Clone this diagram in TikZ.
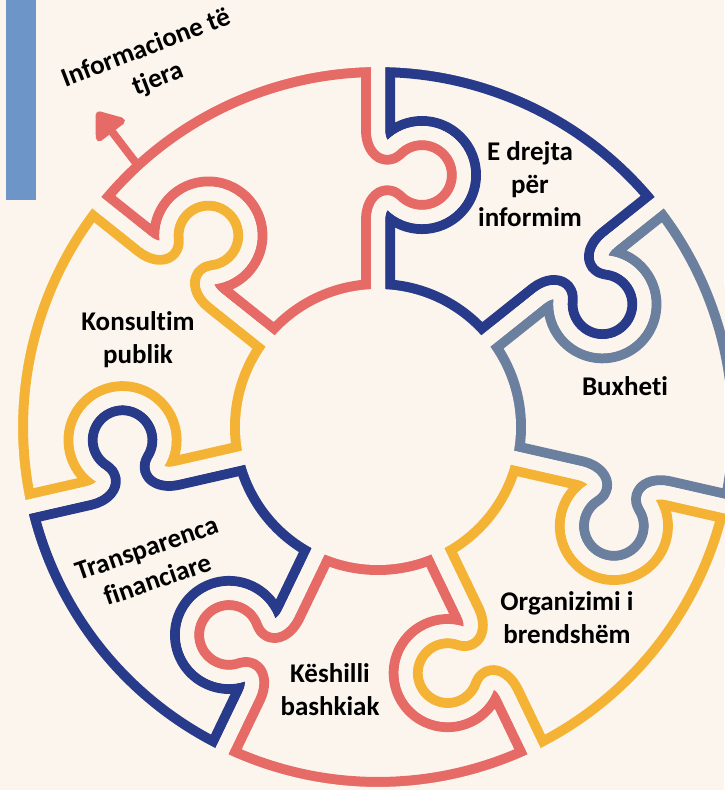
\documentclass[tikz,border=0pt]{standalone}
\usepackage{fontspec}
\setmainfont{Carlito}[RawFeature={-liga;-calt}]
\usetikzlibrary{arrows.meta}

\definecolor{pzNavy}{HTML}{283A8A}
\definecolor{pzSlate}{HTML}{6B809E}
\definecolor{pzYellow}{HTML}{F5B335}
\definecolor{pzRed}{HTML}{E66B67}
\definecolor{pzBack}{HTML}{FCF5EE}
\definecolor{pzBar}{HTML}{6E95C8}

% one puzzle piece between 0 and 360/7 degrees, knob on the lower cut
\newcommand\piecepath{
 (131,0) -- (207,0) .. controls (220,0) and (229.4,-7.2) .. (222.3,-14.3)
 arc[start angle=135, end angle=405, radius=42pt]
 .. controls (274.6,-7.2) and (284,0) .. (297,0) -- (367,0)
 arc[start angle=0, end angle=51.4286, radius=367pt]
 -- ([rotate=51.4286]297,0)
 .. controls ([rotate=51.4286]284,0) and ([rotate=51.4286]274.6,-7.2) .. ([rotate=51.4286]281.7,-14.3)
 arc[start angle=96.4286, end angle=-173.5714, radius=42pt]
 .. controls ([rotate=51.4286]229.4,-7.2) and ([rotate=51.4286]220,0) .. ([rotate=51.4286]207,0)
 -- ([rotate=51.4286]131,0)
 arc[start angle=51.4286, end angle=0, radius=131pt] -- cycle}

\begin{document}
\begin{tikzpicture}[x=1pt, y=1pt,
	txt/.style = {font=\bfseries\fontsize{27}{33}\selectfont, align=center, text=black},
	piece/.style = {line width=34pt, line join=round},
	gap/.style = {draw=pzBack, line width=14pt, line join=round}
	]
\useasboundingbox (0,0) rectangle (724,-790);
\fill[pzBack] (0,0) rectangle (724,-790);
\fill[pzBar] (6,0) rectangle (36,-200);
%
\begin{scope}[shift={(378,-427)}]
	\foreach \k/\col in {1/pzNavy, 2/pzSlate, 3/pzYellow, 4/pzRed, 5/pzNavy, 6/pzYellow, 7/pzRed}
	{
	\begin{scope}[rotate=90-\k*51.4286]
		\clip \piecepath;
		\draw[piece, \col] \piecepath;
	\end{scope}
	}
	% open the gaps between the pieces
	\foreach \k in {1,...,7}
		\draw[gap, rotate=90-\k*51.4286] \piecepath;
	\coordinate (arrbase) at (132.6:352);
	\coordinate (arrtip) at (-281,315);
\end{scope}
%
\draw[pzRed, line width=8pt, -{Triangle[length=28pt, width=40pt, line join=round]}]
	(arrbase) -- (arrtip);
%
\node (drejta) [txt] at (530,-184) {E drejta\\për\\informim};
\node (buxheti) [txt] at (625,-386) {Buxheti};
\node (organizimi) [txt] at (567,-618) {Organizimi i\\brendshëm};
\node (keshilli) [txt] at (330,-690) {Këshilli\\bashkiak};
\node (transparenca) [txt, rotate=19] at (152,-564) {Transparenca\\financiare};
\node (konsultim) [txt] at (138,-340) {Konsultim\\publik};
\node (informacione) [txt, rotate=21] at (152,-64) {Informacione të\\tjera};
\end{tikzpicture}
\end{document}
